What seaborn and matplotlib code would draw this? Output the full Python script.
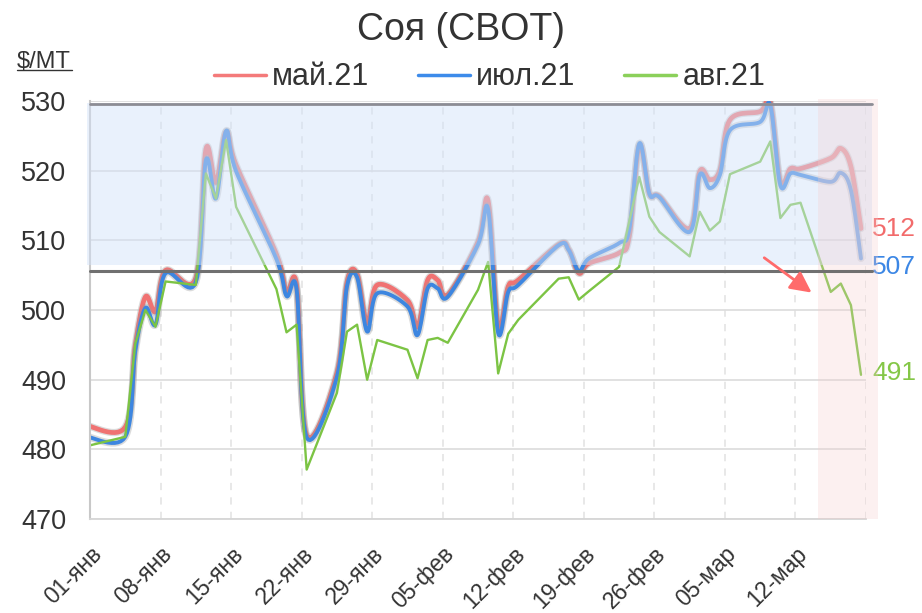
import numpy as np
import pandas as pd
import matplotlib
matplotlib.use('Agg')
import matplotlib.pyplot as plt
import matplotlib.dates as mdates
import matplotlib.patheffects as pe
from matplotlib.lines import Line2D
import seaborn as sns

# trading days (CBOT), Dec 31 included so the lines start at the left edge
dates = ['2020-12-31',
         '2021-01-04', '2021-01-05', '2021-01-06', '2021-01-07', '2021-01-08',
         '2021-01-11', '2021-01-12', '2021-01-13', '2021-01-14', '2021-01-15',
         '2021-01-19', '2021-01-20', '2021-01-21', '2021-01-22',
         '2021-01-25', '2021-01-26', '2021-01-27', '2021-01-28', '2021-01-29',
         '2021-02-01', '2021-02-02', '2021-02-03', '2021-02-04', '2021-02-05',
         '2021-02-08', '2021-02-09', '2021-02-10', '2021-02-11', '2021-02-12',
         '2021-02-16', '2021-02-17', '2021-02-18', '2021-02-19',
         '2021-02-22', '2021-02-23', '2021-02-24', '2021-02-25', '2021-02-26',
         '2021-03-01', '2021-03-02', '2021-03-03', '2021-03-04', '2021-03-05',
         '2021-03-08', '2021-03-09', '2021-03-10', '2021-03-11', '2021-03-12',
         '2021-03-15', '2021-03-16', '2021-03-17', '2021-03-18']

may21 = [483.5,
         483.2, 495.0, 501.9, 499.8, 505.7,
         504.6, 523.1, 518.3, 525.6, 520.8,
         508.0, 502.6, 503.6, 482.0,
         491.0, 504.0, 505.2, 498.1, 503.6,
         501.4, 497.6, 504.3, 504.3, 502.2,
         509.8, 515.7, 497.6, 503.4, 504.3,
         509.4, 508.7, 505.3, 506.7,
         508.2, 510.5, 523.7, 516.7, 516.3,
         511.7, 519.9, 518.7, 520.1, 527.3,
         528.5, 529.9, 518.4, 520.3, 520.3,
         521.8, 523.2, 520.6, 511.7]

jul21 = [481.9,
         481.8, 494.2, 500.3, 497.9, 505.3,
         504.0, 521.5, 516.0, 525.7, 519.9,
         507.3, 502.0, 503.0, 481.7,
         490.4, 503.4, 504.7, 496.9, 502.4,
         500.5, 496.4, 503.1, 503.1, 501.9,
         509.4, 514.5, 496.7, 502.6, 503.6,
         509.3, 508.6, 505.6, 507.4,
         509.6, 511.5, 523.9, 516.7, 516.2,
         511.2, 519.4, 517.5, 519.4, 525.8,
         527.0, 529.4, 517.9, 519.6, 519.4,
         518.4, 519.7, 517.2, 507.4]

aug21 = [480.4,
         481.8, 495.2, 500.0, 497.6, 504.1,
         503.6, 519.6, 516.0, 524.4, 514.8,
         503.0, 496.8, 497.9, 477.1,
         488.1, 496.9, 497.9, 490.0, 495.7,
         494.3, 490.2, 495.7, 496.0, 495.3,
         502.9, 506.9, 490.9, 496.6, 498.6,
         504.5, 504.7, 501.5, 502.7,
         506.2, 512.7, 519.1, 513.4, 511.2,
         507.7, 514.1, 511.4, 512.7, 519.5,
         521.3, 524.2, 513.2, 515.1, 515.4,
         502.6, 503.8, 500.7, 490.7]

series_names = ['май.21', 'июл.21', 'авг.21']
tick_dates = pd.date_range('2021-01-01', '2021-03-19', freq='7D')
tick_labels = ['01-янв', '08-янв', '15-янв', '22-янв', '29-янв', '05-фев',
               '12-фев', '19-фев', '26-фев', '05-мар', '12-мар', '']

# range band and support line
band_lo, band_hi = 506.5, 529.7
top_line, bottom_line = 529.6, 505.6

line_colors = ['#f07272', '#3d86e0', '#7cc444']
text_colors = ['#f26b6b', '#3c87e5', '#84c747']


def smooth(xs, ys, n=14):
    # excel-like smoothed line (catmull-rom as cubic bezier)
    xs = np.asarray(xs, float)
    ys = np.asarray(ys, float)
    px = np.r_[xs[0], xs, xs[-1]]
    py = np.r_[ys[0], ys, ys[-1]]
    ox, oy = [], []
    for i in range(len(xs) - 1):
        x0, x1, x2, x3 = px[i:i + 4]
        y0, y1, y2, y3 = py[i:i + 4]
        cx1, cy1 = x1 + (x2 - x0) / 6, y1 + (y2 - y0) / 6
        cx2, cy2 = x2 - (x3 - x1) / 6, y2 - (y3 - y1) / 6
        t = np.linspace(0, 1, n, endpoint=(i == len(xs) - 2))
        a, b, c, d = (1 - t) ** 3, 3 * (1 - t) ** 2 * t, 3 * (1 - t) * t ** 2, t ** 3
        ox.append(a * x1 + b * cx1 + c * cx2 + d * x2)
        oy.append(a * y1 + b * cy1 + c * cy2 + d * y2)
    return np.concatenate(ox), np.concatenate(oy)


sns.set_style('white')
plt.rcParams['font.family'] = ['Liberation Sans', 'DejaVu Sans']

fig = plt.figure(figsize=(9.22, 6.13), dpi=100)
ax = fig.add_axes([0.0976, 0.1533, 0.8417, 0.6819])

# points sit in the middle of their day, like the excel date axis
x = mdates.date2num(pd.to_datetime(dates)) + 0.5

halo = [pe.Stroke(linewidth=5.2, foreground='#9a9a9a', alpha=0.35), pe.Normal()]
for vals, col, lw in [(may21, line_colors[0], 3.4), (jul21, line_colors[1], 2.8)]:
    sx, sy = smooth(x, vals)
    sns.lineplot(x=sx, y=sy, ax=ax, color=col, linewidth=lw, sort=False,
                 estimator=None, zorder=2, path_effects=halo)

df_aug = pd.DataFrame({'x': x, 'value': aug21})
sns.lineplot(data=df_aug, x='x', y='value', ax=ax, color=line_colors[2],
             linewidth=1.7, sort=False, estimator=None, zorder=2.5)

x0 = mdates.date2num(pd.Timestamp('2021-01-01'))
ax.set_xlim(x0, x0 + 77)
ax.set_ylim(470, 530)

# overlays
ax.axhspan(band_lo, band_hi, xmin=-0.004, xmax=1.008, color='#d3e2f9',
           alpha=0.48, lw=0, zorder=3, clip_on=False)
ax.axvspan(x0 + 72.25, x0 + 78.2, ymin=-0.001, ymax=1.006, color='#f5cccc',
           alpha=0.28, lw=0, zorder=3.1, clip_on=False)
ax.axhline(top_line, xmin=0, xmax=1.008, color='#8c8c94', lw=2, zorder=4, clip_on=False)
ax.axhline(bottom_line, xmin=0, xmax=1.008, color='#707070', lw=2.2, zorder=4, clip_on=False)

ax.annotate('', xy=(x0 + 71.6, 502.5), xytext=(x0 + 66.9, 507.5),
            arrowprops=dict(arrowstyle='-|>', color='#ff6b6b', lw=2,
                            mutation_scale=32, shrinkA=0, shrinkB=0), zorder=5)

# last values at the right edge
label_shift = [0.0, -1.2, 0.2]
for vals, col, dy in zip([may21, jul21, aug21], text_colors, label_shift):
    ax.text(1.008, vals[-1] + dy, f'{vals[-1]:.0f}', color=col, fontsize=19,
            va='center', ha='left', transform=ax.get_yaxis_transform(), clip_on=False)

# grid and axes
ax.set_yticks(np.arange(470, 531, 10))
ax.set_xticks(mdates.date2num(tick_dates))
ax.set_xticklabels(tick_labels, rotation=45, ha='right', va='top',
                   rotation_mode='anchor', fontsize=16.5, color='#333333')
ax.tick_params(axis='y', length=0, pad=17, labelsize=19.5, labelcolor='#333333')
ax.tick_params(axis='x', direction='out', length=8, width=1.3, color='#d6d6d6', pad=9)

ax.grid(axis='y', color='#dedede', lw=1.3, zorder=0)
ax.grid(axis='x', color='#e6e6e6', lw=1.3, ls=(0, (4, 4)), zorder=0)
ax.set_axisbelow(True)
for s in ['top', 'right']:
    ax.spines[s].set_visible(False)
ax.spines['left'].set_color('#c8c8c8')
ax.spines['left'].set_linewidth(1.5)
ax.spines['bottom'].set_color('#d6d6d6')
ax.spines['bottom'].set_linewidth(1.3)
ax.set_xlabel('')
ax.set_ylabel('')

fig.text(0.4995, 0.951, 'Соя (CBOT)', fontsize=27, color='#333333', ha='center', va='center')
fig.text(0.0185, 0.899, '$/MT', fontsize=17, color='#333333', ha='left', va='center')
fig.add_artist(Line2D([17 / 922, 72 / 922], [1 - 70 / 613, 1 - 70 / 613],
                      color='#333333', lw=1.0, transform=fig.transFigure))

handles = [Line2D([], [], color=c, lw=2.5) for c in ['#f47a7a', '#3d8bea', '#8bd05a']]
fig.legend(handles, series_names, loc='center', bbox_to_anchor=(0.531, 0.874),
           ncol=3, frameon=False, fontsize=22, handlelength=1.7, handletextpad=0.2,
           columnspacing=1.6, labelcolor='#333333')

fig.savefig('out.png', dpi=100)
